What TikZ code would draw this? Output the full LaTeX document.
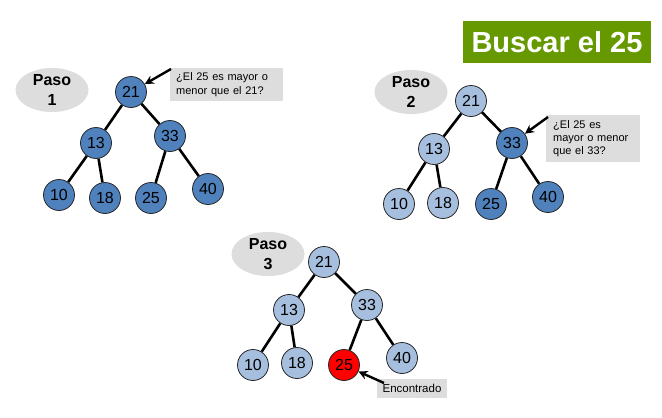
\documentclass[tikz,border=0pt]{standalone}
\usepackage{fontspec}
\setmainfont{Liberation Sans}
\usetikzlibrary{shapes.geometric,arrows.meta}
\definecolor{dblue}{HTML}{4F81BD}
\definecolor{lblue}{HTML}{A7BFDE}
\definecolor{lgray}{HTML}{DDDDDD}
\definecolor{tgreen}{HTML}{669900}
\tikzset{
  nd/.style={circle,draw=black!85,line width=0.8pt,minimum size=31pt,inner sep=0pt,font=\fontsize{16}{16}\selectfont},
  dk/.style={nd,fill=dblue},
  lt/.style={nd,fill=lblue},
  rd/.style={nd,fill=red},
  paso/.style={ellipse,fill=lgray,minimum width=73pt,minimum height=44pt,inner sep=0pt,align=center,font=\fontsize{16}{20}\selectfont\bfseries},
  lbl/.style={fill=lgray,anchor=north west,inner sep=0pt,align=left,font=\fontsize{11}{13.5}\selectfont},
  edge/.style={line width=2.6pt},
  arr/.style={line width=2.4pt,-{Stealth[length=9pt,width=9pt]}}
}
\begin{document}
\begin{tikzpicture}[x=1pt,y=-1pt]
\useasboundingbox (0,0) rectangle (662,418);
% title
\node[fill=tgreen,text=white,minimum width=188pt,minimum height=42pt,inner sep=0pt,font=\fontsize{29}{29}\selectfont\bfseries] (title) at (557,42) {Buscar el 25};

% ---------- Step 1 ----------
\node[paso] (p1) at (52,90) {Paso\\1};
\node[dk] (a21) at (131,92) {21};
\node[dk] (a13) at (96,143) {13};
\node[dk] (a33) at (170,136) {33};
\node[dk] (a10) at (59,195) {10};
\node[dk] (a18) at (105,198) {18};
\node[dk] (a25) at (151,198) {25};
\node[dk] (a40) at (208,189) {40};
\draw[edge] (a21) -- (a13);
\draw[edge] (a21) -- (a33);
\draw[edge] (a13) -- (a10);
\draw[edge] (a13) -- (a18);
\draw[edge] (a33) -- (a25);
\draw[edge] (a33) -- (a40);
\node[lbl,minimum width=113pt,minimum height=33pt,text width=101pt,inner xsep=6pt] (l1) at (170,68) {¿El 25 es mayor o\\menor que el 21?};
\coordinate (s1) at (171,69);
\draw[arr] (s1) -- (a21);

% ---------- Step 2 ----------
\node[paso] (p2) at (411,92) {Paso\\2};
\node[lt] (b21) at (471,101) {21};
\node[lt] (b13) at (434,149) {13};
\node[dk] (b33) at (512,143) {33};
\node[lt] (b10) at (399,204) {10};
\node[lt] (b18) at (443,203) {18};
\node[dk] (b25) at (491,204) {25};
\node[dk] (b40) at (548,197) {40};
\draw[edge] (b21) -- (b13);
\draw[edge] (b21) -- (b33);
\draw[edge] (b13) -- (b10);
\draw[edge] (b13) -- (b18);
\draw[edge] (b33) -- (b25);
\draw[edge] (b33) -- (b40);
\node[lbl,minimum width=90pt,minimum height=47pt,text width=80pt,inner xsep=7pt,font=\fontsize{11}{13}\selectfont] (l2) at (546,115) {¿El 25 es\\mayor o menor\\que el 33?};
\coordinate (s2) at (548,117);
\draw[arr] (s2) -- (b33);

% ---------- Step 3 ----------
\node[paso] (p3) at (268,254) {Paso\\3};
\node[lt] (c21) at (324,262) {21};
\node[lt] (c13) at (289,310) {13};
\node[lt] (c33) at (367,305) {33};
\node[lt] (c10) at (253,365) {10};
\node[lt] (c18) at (297,363) {18};
\node[rd] (c25) at (344,365) {25};
\node[lt] (c40) at (402,358) {40};
\draw[edge] (c21) -- (c13);
\draw[edge] (c21) -- (c33);
\draw[edge] (c13) -- (c10);
\draw[edge] (c13) -- (c18);
\draw[edge] (c33) -- (c25);
\draw[edge] (c33) -- (c40);
\node[lbl,anchor=center,align=center,minimum width=70pt,minimum height=19pt,font=\fontsize{11.5}{12}\selectfont] (l3) at (412,388.5) {Encontrado};
\coordinate (s3) at (384,383);
\draw[arr] (s3) -- (c25);
\end{tikzpicture}
\end{document}
